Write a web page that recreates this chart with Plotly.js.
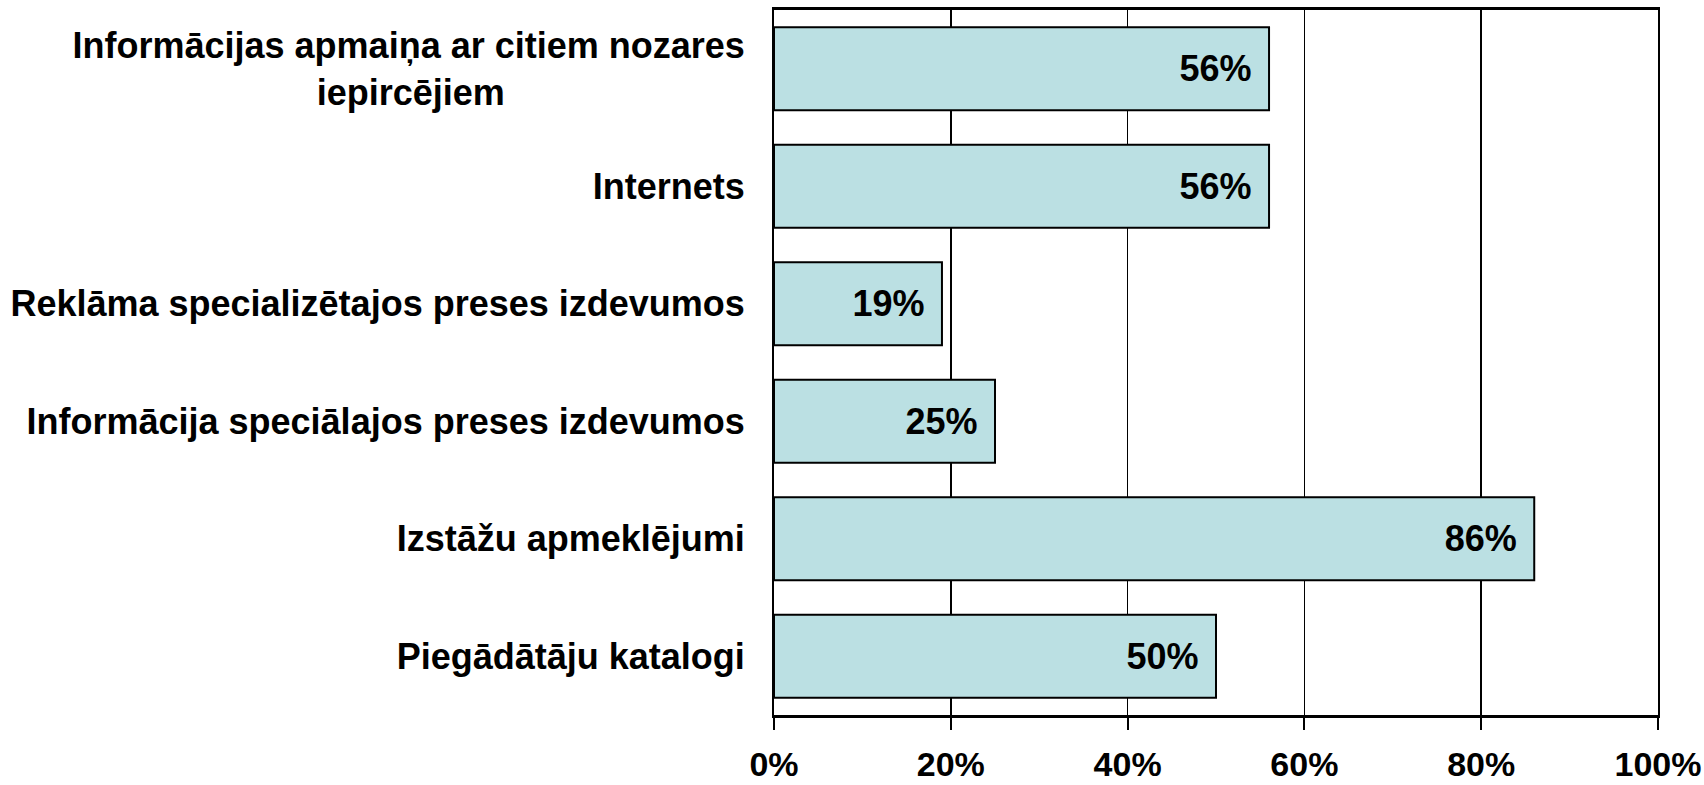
<!DOCTYPE html>
<html>
<head>
<meta charset="utf-8">
<script src="https://cdn.plot.ly/plotly-3.0.1.min.js"></script>
<style>
html,body{margin:0;padding:0;background:#fff;}
#chart{width:1704px;height:785px;}
</style>
</head>
<body>
<div id="chart"></div>
<script>
var categories = [
  "Informācijas apmaiņa ar citiem nozares<br>iepircējiem" + "\u00A0".repeat(24),
  "Internets",
  "Reklāma specializētajos preses izdevumos",
  "Informācija speciālajos preses izdevumos",
  "Izstāžu apmeklējumi",
  "Piegādātāju katalogi"
];
var values = [0.56, 0.56, 0.19, 0.25, 0.86, 0.50];
var tickValues = [0, 0.2, 0.4, 0.6, 0.8, 1.0];
var tickLabels = ["0%", "20%", "40%", "60%", "80%", "100%"];

var FONT = "Liberation Sans, Arial, sans-serif";

var trace = {
  type: "bar",
  orientation: "h",
  y: categories,
  x: values,
  marker: {color: "rgb(187,224,227)", line: {color: "#000", width: 2}},
  texttemplate: "%{x:.0%}\u2009\u2009",
  textposition: "inside",
  insidetextanchor: "end",
  constraintext: "none",
  textfont: {family: FONT, size: 36, color: "#000", weight: "bold"},
  hoverinfo: "skip"
};

var layout = {
  width: 1704,
  height: 785,
  margin: {l: 774, r: 46, t: 10, b: 70},
  paper_bgcolor: "#fff",
  plot_bgcolor: "#fff",
  showlegend: false,
  bargap: 0.294,
  xaxis: {
    range: [0, 1],
    tickvals: tickValues,
    ticktext: tickLabels,
    showgrid: true,
    gridcolor: "#000",
    gridwidth: 1.5,
    zeroline: false,
    showline: true,
    linecolor: "#000",
    linewidth: 3,
    mirror: true,
    ticks: "outside",
    ticklen: 12,
    tickwidth: 2,
    tickcolor: "#000",
    ticklabelstandoff: 5,
    tickfont: {family: FONT, size: 34, color: "#000", weight: "bold"},
    fixedrange: true
  },
  yaxis: {
    type: "category",
    autorange: "reversed",
    showgrid: false,
    zeroline: false,
    showline: true,
    linecolor: "#000",
    linewidth: 2,
    mirror: true,
    ticks: "",
    ticklabelstandoff: 20,
    tickfont: {family: FONT, size: 36, color: "#000", weight: "bold"},
    fixedrange: true
  }
};

Plotly.newPlot("chart", [trace], layout, {displayModeBar: false, staticPlot: true});
</script>
</body>
</html>
